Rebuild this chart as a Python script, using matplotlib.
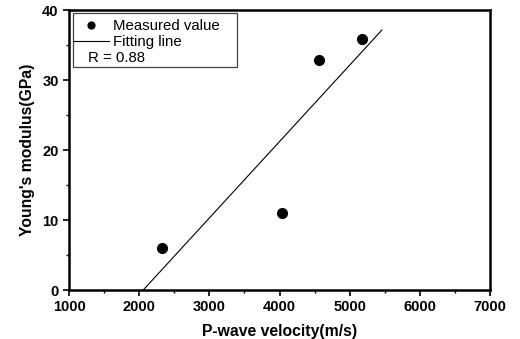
import numpy as np
import matplotlib.pyplot as plt
from matplotlib.patches import Rectangle
from matplotlib.ticker import MultipleLocator

plt.rcParams['font.family'] = ['Liberation Sans', 'DejaVu Sans']

# measured data
velocity = [2330, 4030, 4560, 5170]   # m/s
modulus = [6.0, 11.0, 32.9, 35.9]     # GPa
fit_range = [2060, 5460]              # x extent of drawn fitting line
r_label = "R = 0.88"

slope, icpt = np.polyfit(velocity, modulus, 1)
fx = np.array(fit_range)
fy = slope * fx + icpt

fig = plt.figure(figsize=(5.2, 3.39), dpi=100)
ax = fig.add_axes([0.1327, 0.1445, 0.8096, 0.826])

ax.plot(velocity, modulus, 'o', color='black', markersize=7, label='Measured value', zorder=3)
ax.plot(fx, fy, '-', color='black', linewidth=0.8, label='Fitting line')

ax.set_xlim(1000, 7000)
ax.set_ylim(0, 40)
ax.xaxis.set_major_locator(MultipleLocator(1000))
ax.xaxis.set_minor_locator(MultipleLocator(500))
ax.yaxis.set_major_locator(MultipleLocator(10))
ax.yaxis.set_minor_locator(MultipleLocator(5))
ax.tick_params(which='major', direction='out', length=4, width=1.2, labelsize=10.5)
ax.tick_params(which='minor', direction='out', length=2.5, width=1.0)
for lab in ax.get_xticklabels() + ax.get_yticklabels():
    lab.set_fontweight('bold')
for s in ax.spines.values():
    s.set_linewidth(1.8)

ax.set_xlabel('P-wave velocity(m/s)', fontsize=11.3, fontweight='bold', labelpad=7)
ax.set_ylabel("Young's modulus(GPa)", fontsize=11.3, fontweight='bold', labelpad=5)

# legend box drawn by hand so the R value can sit inside it
ax.add_patch(Rectangle((0.0095, 0.796), 0.39, 0.193, transform=ax.transAxes,
                       fill=False, edgecolor='#444444', linewidth=0.9, zorder=4))
ax.legend(loc='upper left', bbox_to_anchor=(-0.012, 1.0), frameon=False,
          fontsize=10.8, handlelength=2.4, handletextpad=0.3, labelspacing=0.15,
          borderaxespad=0.2, markerscale=0.7)
ax.text(0.045, 0.83, r_label, transform=ax.transAxes, fontsize=10.8, va='center')

fig.savefig('out.png', dpi=100)
